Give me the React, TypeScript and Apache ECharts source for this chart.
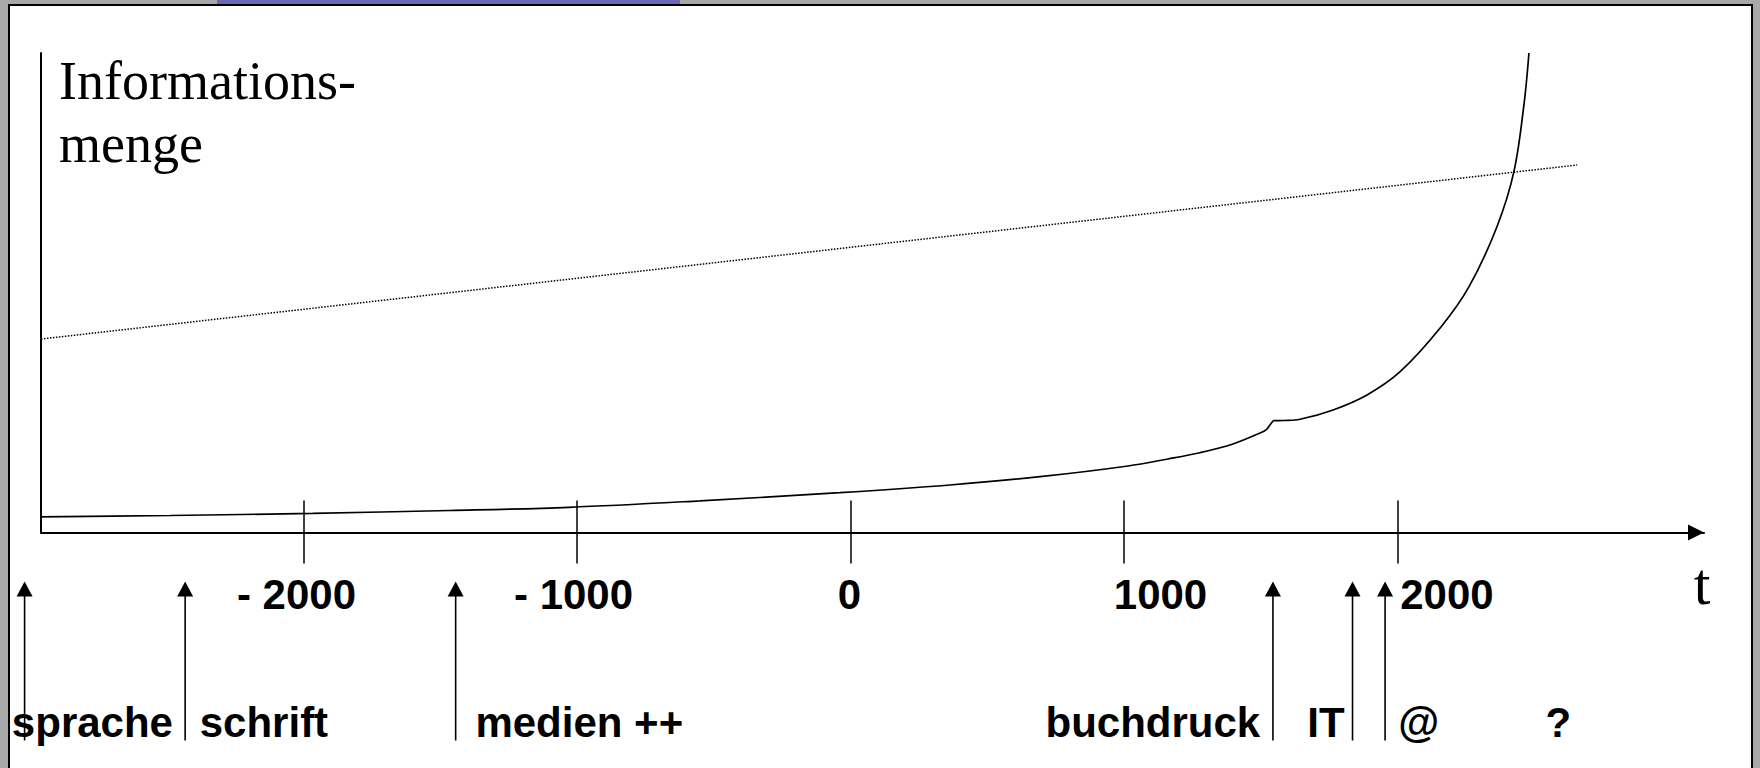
import React, { useEffect, useRef } from 'react';
import * as echarts from 'echarts';

// ---- data ----
const tickYears = [-2000, -1000, 0, 1000, 2000];
const tickLabels = ['- 2000', '- 1000', '0', '1000', '2000'];
// where each tick label sits along the time axis (the drawing places them freely next to the ticks)
const tickLabelYears = [-2026, -1013, -4, 1133, 2180];

// information curve; the null marks the jump at the printing press (two pieces meet at 1545)
const curveYears = [
  -3020, -2488, -1967, -1465, -1030, -551, -39, 363, 693, 1014, 1160, 1277, 1398, 1497, 1521, 1533, 1545,
  1545,
  1545, 1581, 1643, 1764, 1888, 2009, 2159, 2261, 2363, 2425, 2462, 2480,
];
const curveValues: (number | null)[] = [
  3.23, 3.55, 4.0, 4.59, 5.26, 6.61, 8.3, 9.91, 11.64, 13.87, 15.33, 16.64, 18.46, 20.75, 21.52, 22.42, 23.32,
  null,
  23.32, 23.36, 23.61, 25.55, 28.68, 33.53, 42.92, 51.26, 63.77, 75.25, 89.36, 100,
];

const trendYears = [-2960, 2656];
const trendValues = [40.35, 76.64];

const eventNames = ['sprache', 'schrift', 'medien ++', 'buchdruck', 'IT', '@', '?'];
const eventArrowYears: (number | null)[] = [-3020, -2433, -1444, 1544, 1835, 1954, null];
const eventLabelYears = [-2772, -2145, -992, 1105, 1738, 2077, 2587];

const yTitle = 'Informations-\nmenge';
const xTitle = 't';

const SANS = '"Liberation Sans", Arial, Helvetica, sans-serif';
const SERIF = '"Liberation Serif", "Times New Roman", Times, serif';

export default function App() {
  const ref = useRef<HTMLDivElement>(null);

  useEffect(() => {
    if (!ref.current) return;
    const chart = echarts.init(ref.current, null, { renderer: 'svg' });

    const xCommon = { type: 'value', min: -2960, max: 3120, position: 'bottom' };
    const tickLine = { color: '#000', width: 1.5 };

    const option: any = {
      animation: false,
      backgroundColor: '#a8a8a8',
      graphic: [
        {
          type: 'rect',
          z: -10,
          silent: true,
          shape: { x: 9, y: 5, width: 1743, height: 775 },
          style: { fill: '#ffffff', stroke: '#000000', lineWidth: 2 },
        },
        {
          type: 'rect',
          z: -9,
          silent: true,
          shape: { x: 217, y: 0, width: 463, height: 4 },
          style: { fill: '#6a6ab4' },
        },
      ],
      grid: { left: 41, right: 56, top: 53, bottom: 235.5, containLabel: false, outerBoundsMode: 'none' },
      xAxis: [
        {
          ...xCommon,
          axisLine: {
            show: true,
            onZero: false,
            symbol: ['none', 'triangle'],
            symbolSize: [16, 16],
            symbolOffset: [0, -8],
            lineStyle: { color: '#000', width: 2 },
          },
          axisTick: { show: true, customValues: tickYears, inside: false, length: 31, lineStyle: tickLine },
          axisLabel: {
            show: true,
            customValues: tickLabelYears,
            formatter: (v: number) => tickLabels[tickLabelYears.indexOf(v)] ?? '',
            margin: 41,
            color: '#000',
            fontFamily: SANS,
            fontSize: 42,
            fontWeight: 'bold',
            lineHeight: 42,
          },
          splitLine: { show: false },
          name: xTitle,
          nameLocation: 'end',
          nameGap: -2,
          nameMoveOverlap: false,
          nameTextStyle: {
            fontFamily: SERIF,
            fontSize: 60,
            lineHeight: 60,
            color: '#000',
            align: 'center',
            verticalAlign: 'top',
            padding: [21, 0, 0, 0],
          },
        },
        {
          ...xCommon,
          axisLine: { show: false, onZero: false },
          axisTick: { show: true, customValues: tickYears, inside: true, length: 32, lineStyle: tickLine },
          axisLabel: { show: false },
          splitLine: { show: false },
        },
      ],
      yAxis: {
        type: 'value',
        min: 0,
        max: 100,
        axisLine: { show: true, onZero: false, lineStyle: { color: '#000', width: 2 } },
        axisTick: { show: false },
        axisLabel: { show: false },
        splitLine: { show: false },
        name: yTitle,
        nameLocation: 'end',
        nameGap: 4,
        nameMoveOverlap: false,
        nameTextStyle: {
          fontFamily: SERIF,
          fontSize: 54,
          lineHeight: 63,
          color: '#000',
          align: 'left',
          verticalAlign: 'top',
          padding: [0, 0, 0, 18],
        },
      },
      series: [
        {
          name: 'Informationsmenge',
          type: 'line',
          xAxisIndex: 0,
          data: curveYears.map((y, i) => [y, curveValues[i] == null ? '-' : curveValues[i]]),
          symbol: 'none',
          clip: false,
          connectNulls: false,
          smooth: 0.35,
          lineStyle: { color: '#000', width: 1.7 },
          z: 3,
        },
        {
          name: 'linear',
          type: 'line',
          xAxisIndex: 0,
          data: trendYears.map((y, i) => [y, trendValues[i]]),
          symbol: 'none',
          clip: false,
          lineStyle: { color: '#000', width: 1.5, type: 'dotted' },
          z: 3,
        },
        {
          name: 'events',
          type: 'custom',
          xAxisIndex: 0,
          clip: false,
          data: eventNames.map((n, i) => ({
            name: n,
            value: [eventLabelYears[i], eventArrowYears[i] == null ? '-' : eventArrowYears[i]],
          })),
          renderItem: (params: any, api: any) => {
            const labelYear = api.value(0);
            const arrowYear = api.value(1);
            const lp = api.coord([labelYear, 0]);
            const children: any[] = [
              {
                type: 'text',
                x: lp[0],
                y: lp[1] + 190,
                style: {
                  text: eventNames[params.dataIndex],
                  fill: '#000',
                  font: `bold 42px ${SANS}`,
                  align: 'center',
                  verticalAlign: 'middle',
                },
              },
            ];
            if (typeof arrowYear === 'number' && !isNaN(arrowYear)) {
              const ap = api.coord([arrowYear, 0]);
              const x = ap[0];
              const y0 = ap[1];
              children.push({
                type: 'line',
                shape: { x1: x, y1: y0 + 208, x2: x, y2: y0 + 62 },
                style: { stroke: '#000', lineWidth: 1.6 },
              });
              children.push({
                type: 'polygon',
                shape: { points: [[x, y0 + 49], [x - 8, y0 + 64], [x + 8, y0 + 64]] },
                style: { fill: '#000' },
              });
            }
            return { type: 'group', children };
          },
          z: 4,
        },
      ],
    };

    chart.setOption(option);
    return () => chart.dispose();
  }, []);

  return (
    <div
      ref={ref}
      style={{ position: 'fixed', left: 0, top: 0, width: 1760, height: 768 }}
    />
  );
}
